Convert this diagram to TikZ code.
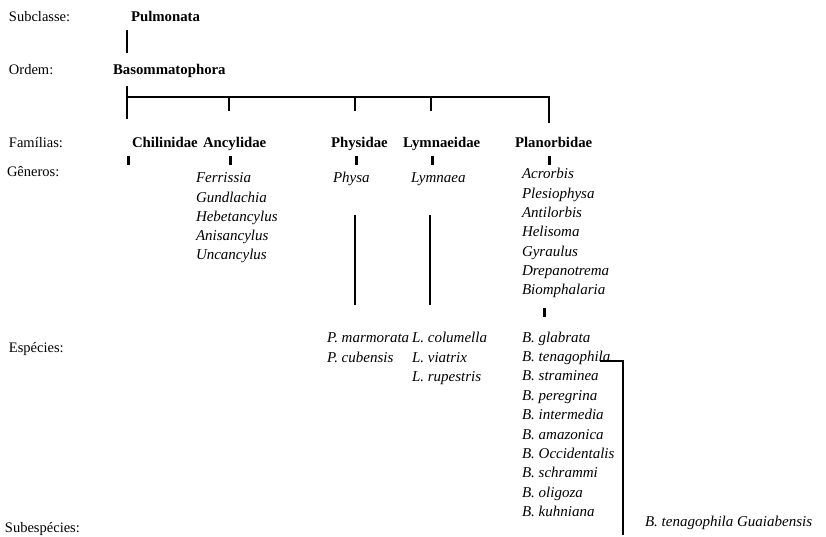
\documentclass[tikz,border=0pt]{standalone}
\usepackage{fontspec}
\setmainfont{Liberation Serif}
\begin{document}
\begin{tikzpicture}[x=1pt,y=-1pt,
  every node/.style={inner sep=0pt,outer sep=0pt},
  rank/.style={anchor=base west,font=\fontsize{14.5}{17}\selectfont},
  taxon/.style={anchor=base west,font=\fontsize{14.8}{17}\selectfont\bfseries},
  gen/.style={anchor=base west,font=\fontsize{15}{17}\selectfont\itshape},
  link/.style={line width=2.6pt},
  tickline/.style={line width=3pt}]
\useasboundingbox (0,0) rectangle (826,537);
% rank labels
\node[rank] (rSub) at (9,22) {Subclasse:};
\node[rank] (rOrd) at (9,75) {Ordem:};
\node[rank] (rFam) at (9,148) {Famílias:};
\node[rank] (rGen) at (7,177) {Gêneros:};
\node[rank] (rEsp) at (9,352) {Espécies:};
\node[rank] (rSubesp) at (5,532) {Subespécies:};
% higher taxa
\node[taxon] (pulm) at (131,22) {Pulmonata};
\node[taxon] (baso) at (113,75) {Basommatophora};
\node[taxon] (chil) at (132,148) {Chilinidae};
\node[taxon] (ancy) at (203,148) {Ancylidae};
\node[taxon] (phys) at (331,148) {Physidae};
\node[taxon] (lymn) at (403,148) {Lymnaeidae};
\node[taxon] (plan) at (515,148) {Planorbidae};
% genera
\foreach \t [count=\i from 0] in {Ferrissia,Gundlachia,Hebetancylus,Anisancylus,Uncancylus}
  \node[gen] (anc\i) at (196,{183+19.2*\i}) {\t};
\node[gen] (physa) at (333,183) {Physa};
\node[gen] (lymnaea) at (411,183) {Lymnaea};
\foreach \t [count=\i from 0] in {Acrorbis,Plesiophysa,Antilorbis,Helisoma,Gyraulus,Drepanotrema,Biomphalaria}
  \node[gen] (pla\i) at (522,{179+19.3*\i}) {\t};
% species
\node[gen] (pmar) at (327,342) {P. marmorata};
\node[gen] (pcub) at (327,362) {P. cubensis};
\node[gen] (lcol) at (412,342) {L. columella};
\node[gen] (lvia) at (412,362) {L. viatrix};
\node[gen] (lrup) at (412,381) {L. rupestris};
\foreach \t [count=\i from 0] in {B. glabrata,B. tenagophila,B. straminea,B. peregrina,B. intermedia,B. amazonica,B. Occidentalis,B. schrammi,B. oligoza,B. kuhniana}
  \node[gen] (bio\i) at (522,{342+19.4*\i}) {\t};
\node[gen] (guai) at (645,526) {B. tenagophila Guaiabensis};
% connector coordinates
\coordinate (c1) at (127,30);
\coordinate (c2) at (127,53);
\coordinate (b0) at (127,86);
\coordinate (b1) at (127,119);
\coordinate (h0) at (127,97);
\coordinate (h1) at (550,97);
\coordinate (t1) at (229,97);  \coordinate (t1e) at (229,111);
\coordinate (t2) at (355,97);  \coordinate (t2e) at (355,111);
\coordinate (t3) at (431,97);  \coordinate (t3e) at (431,111);
\coordinate (t4) at (549,97);  \coordinate (t4e) at (549,123);
% family ticks
\coordinate (f1a) at (128,156); \coordinate (f1b) at (128,165);
\coordinate (f2a) at (230,156); \coordinate (f2b) at (230,165);
\coordinate (f3a) at (356,156); \coordinate (f3b) at (356,165);
\coordinate (f4a) at (432,156); \coordinate (f4b) at (432,165);
\coordinate (f5a) at (549,156); \coordinate (f5b) at (549,165);
% long lines
\coordinate (pl0) at (355,215); \coordinate (pl1) at (355,305);
\coordinate (ll0) at (430,215); \coordinate (ll1) at (430,305);
\coordinate (bt0) at (544,308); \coordinate (bt1) at (544,317);
\coordinate (tn0) at (600,361); \coordinate (tn1) at (623,361); \coordinate (tn2) at (623,535);
% draw connectors
\draw[link] (c1) -- (c2);
\draw[link] (b0) -- (b1);
\draw[link] (h0) -- (h1);
\draw[link] (t1) -- (t1e);
\draw[link] (t2) -- (t2e);
\draw[link] (t3) -- (t3e);
\draw[link] (t4) -- (t4e);
\foreach \k in {1,...,5} \draw[tickline] (f\k a) -- (f\k b);
\draw[link] (pl0) -- (pl1);
\draw[link] (ll0) -- (ll1);
\draw[tickline] (bt0) -- (bt1);
\draw[link] (tn0) -- (tn1) -- (tn2);
\end{tikzpicture}
\end{document}
